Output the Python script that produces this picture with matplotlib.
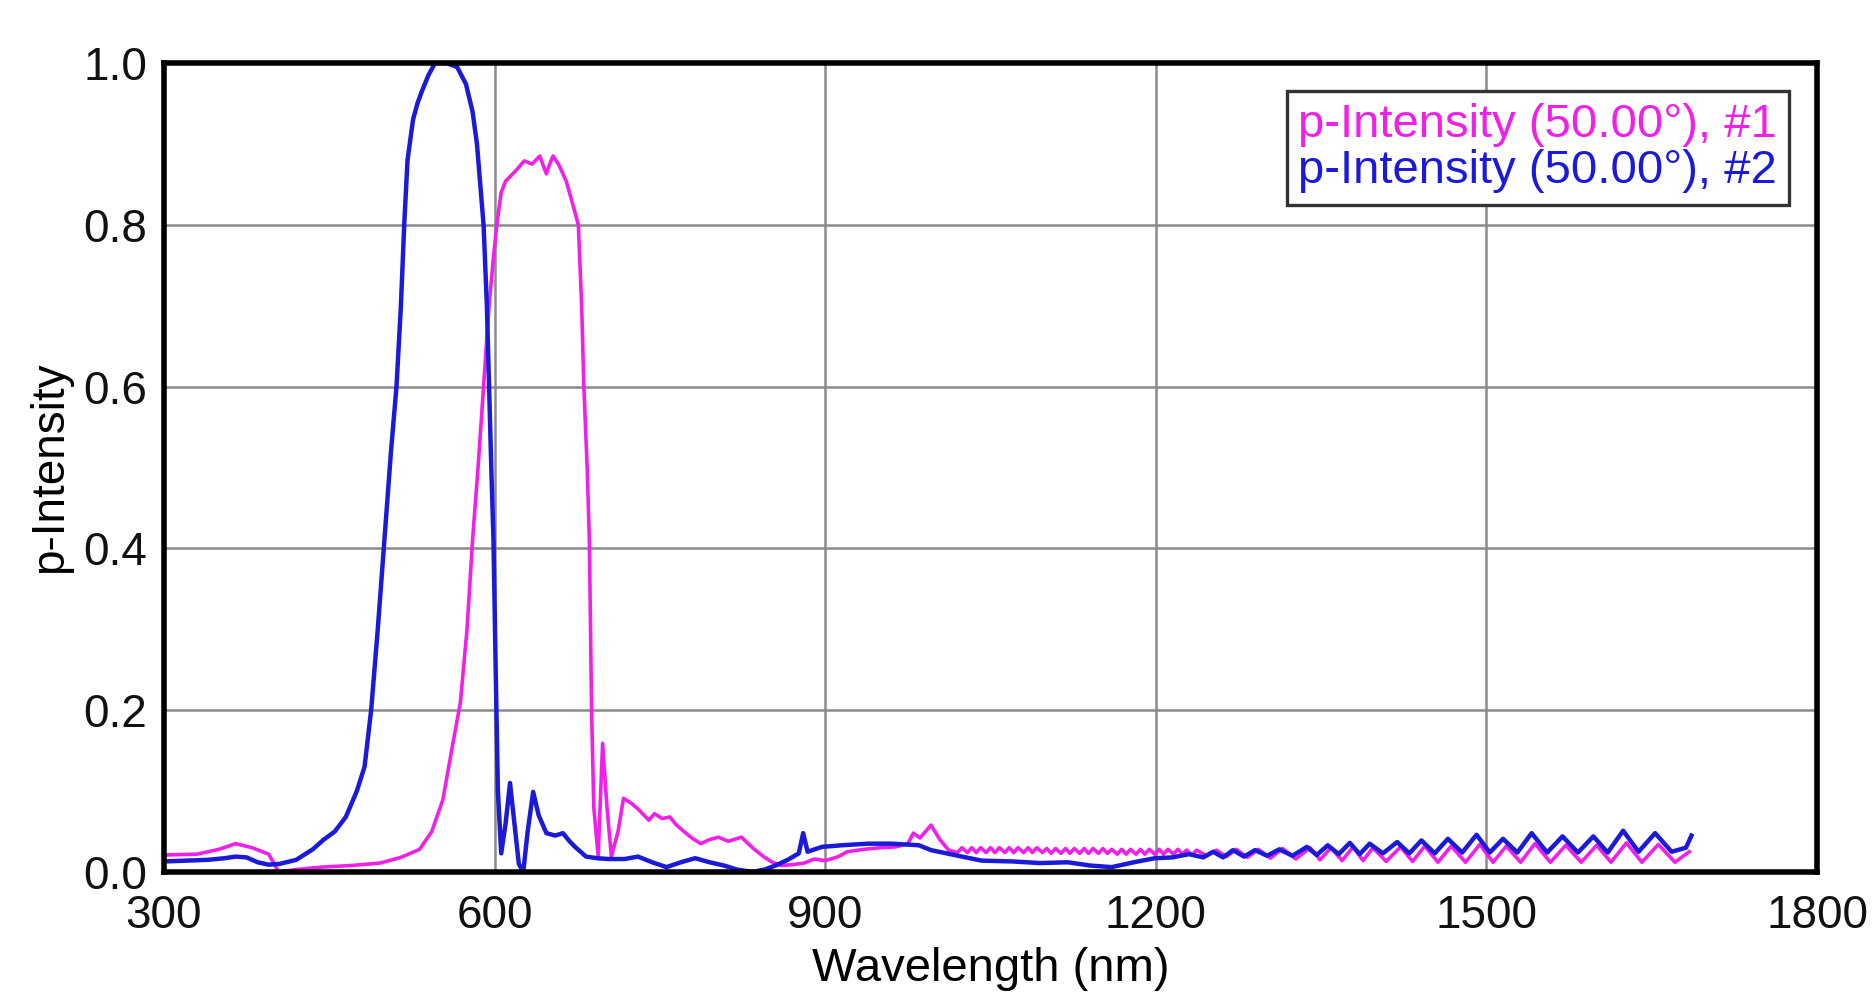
"""Two p-Intensity spectra (50.00 deg) vs wavelength."""

import matplotlib
matplotlib.use("Agg")
import matplotlib.pyplot as plt  # noqa: E402

# --- data (wavelength nm, p-intensity) ---
blue_x = [300, 320, 340, 355, 365, 375, 385, 395, 405, 420, 435, 445, 455, 465,
          475, 482, 488, 494, 500, 506, 511, 515, 518, 521, 526, 530, 534, 540,
          546, 556, 566, 574, 580, 584, 587, 590, 593, 595, 597, 599, 601, 603,
          606, 610, 614, 618, 622, 626, 630, 635, 640, 647, 655, 662, 668, 673,
          683, 693, 704, 718, 730, 743, 756, 769, 782, 795, 808, 820, 834, 845,
          855, 866, 876, 880, 884, 897, 915, 939, 960, 985, 996, 1017, 1042,
          1070, 1095, 1120, 1140, 1160, 1180, 1199, 1215, 1230,
          1243, 1252, 1261, 1270, 1280, 1290, 1301, 1312, 1324, 1337, 1346,
          1356, 1366, 1376, 1385, 1394, 1406, 1419, 1430, 1441, 1453, 1465,
          1478, 1491, 1503, 1515, 1528, 1541, 1555, 1569, 1583, 1597, 1610,
          1624, 1638, 1653, 1668, 1681, 1686]
blue_y = [0.013, 0.014, 0.015, 0.017, 0.019, 0.018, 0.012, 0.009, 0.010, 0.015,
          0.028, 0.040, 0.050, 0.068, 0.100, 0.130, 0.200, 0.300, 0.410, 0.520,
          0.600, 0.700, 0.800, 0.880, 0.930, 0.950, 0.965, 0.985, 1.000, 1.000,
          0.995, 0.974, 0.940, 0.900, 0.850, 0.800, 0.700, 0.600, 0.500, 0.410,
          0.250, 0.100, 0.023, 0.060, 0.110, 0.060, 0.010, 0.000, 0.050, 0.099,
          0.070, 0.048, 0.045, 0.048, 0.038, 0.031, 0.019, 0.017, 0.016, 0.016,
          0.019, 0.012, 0.006, 0.012, 0.017, 0.012, 0.008, 0.003, 0.000, 0.003,
          0.008, 0.015, 0.023, 0.048, 0.025, 0.031, 0.033, 0.035, 0.035, 0.033,
          0.027, 0.021, 0.014, 0.013, 0.011, 0.012, 0.008, 0.006, 0.012, 0.017,
          0.018, 0.022,
          0.018, 0.025, 0.018, 0.027, 0.019, 0.027, 0.020, 0.028, 0.020, 0.031,
          0.021, 0.033, 0.022, 0.036, 0.022, 0.035, 0.023, 0.037, 0.023, 0.039,
          0.023, 0.041, 0.024, 0.046, 0.024, 0.041, 0.024, 0.048, 0.024, 0.044,
          0.024, 0.044, 0.024, 0.051, 0.025, 0.048, 0.025, 0.030, 0.045]

mag_x = [300, 330, 350, 365, 380, 395, 400, 404, 420, 443, 470, 496, 515, 532,
         543, 553, 561, 569, 575, 580, 585, 590, 595, 599, 602, 606, 610, 618,
         627, 634, 641, 645, 647, 650, 653, 658, 665, 670, 676, 679, 681, 684,
         686, 688, 690, 694, 698, 702, 706, 712, 717, 724, 730, 740, 745, 752,
         759, 765, 771, 779, 787, 795, 803, 812, 824, 834, 844, 852, 860, 870,
         881, 890, 900, 912, 920, 935, 950, 964, 975, 980, 986, 996, 1004,
         1012, 1020,
         1024, 1029, 1033, 1037, 1041, 1046, 1050, 1054, 1058, 1063, 1067,
         1071, 1075, 1080, 1084, 1088, 1092, 1097, 1101, 1105, 1109, 1114,
         1118, 1122, 1126, 1131, 1135, 1139, 1143, 1148, 1152, 1156, 1160,
         1165, 1169, 1173, 1177, 1182, 1186, 1190, 1194, 1199, 1203, 1207,
         1211, 1216, 1220, 1224, 1228, 1233, 1237,
         1246, 1255, 1264, 1273, 1283, 1293, 1304, 1315, 1327, 1340, 1349,
         1359, 1369, 1379, 1388, 1397, 1409, 1422, 1433, 1444, 1456, 1468,
         1481, 1494, 1506, 1518, 1531, 1544, 1558, 1572, 1586, 1600, 1613,
         1627, 1641, 1656, 1671, 1684]
mag_y = [0.021, 0.022, 0.028, 0.035, 0.030, 0.022, 0.010, 0.000, 0.003, 0.006,
         0.008, 0.011, 0.018, 0.028, 0.050, 0.089, 0.150, 0.210, 0.300, 0.410,
         0.500, 0.600, 0.700, 0.760, 0.800, 0.840, 0.854, 0.865, 0.879, 0.875,
         0.885, 0.870, 0.863, 0.875, 0.885, 0.875, 0.854, 0.830, 0.800, 0.700,
         0.600, 0.500, 0.410, 0.200, 0.080, 0.019, 0.159, 0.080, 0.019, 0.050,
         0.091, 0.085, 0.078, 0.064, 0.072, 0.066, 0.068, 0.058, 0.051, 0.042,
         0.035, 0.040, 0.043, 0.038, 0.043, 0.030, 0.019, 0.012, 0.008, 0.009,
         0.011, 0.016, 0.014, 0.019, 0.025, 0.028, 0.030, 0.031, 0.035, 0.048,
         0.042, 0.058, 0.040, 0.027, 0.024,
         0.030, 0.024, 0.030, 0.024, 0.030, 0.024, 0.030, 0.024, 0.030, 0.024,
         0.030, 0.024, 0.030, 0.024, 0.030, 0.024, 0.030, 0.024, 0.029, 0.023,
         0.029, 0.023, 0.029, 0.023, 0.029, 0.023, 0.029, 0.023, 0.029, 0.023,
         0.029, 0.023, 0.028, 0.022, 0.028, 0.022, 0.028, 0.022, 0.028, 0.022,
         0.028, 0.022, 0.028, 0.022, 0.028, 0.022, 0.028, 0.022, 0.027, 0.021,
         0.027,
         0.020, 0.027, 0.019, 0.028, 0.018, 0.028, 0.017, 0.029, 0.016, 0.030,
         0.015, 0.030, 0.014, 0.031, 0.014, 0.030, 0.013, 0.031, 0.013, 0.032,
         0.012, 0.032, 0.012, 0.034, 0.012, 0.032, 0.012, 0.035, 0.012, 0.033,
         0.012, 0.033, 0.012, 0.036, 0.012, 0.034, 0.012, 0.025]

labels = ["p-Intensity (50.00°), #1", "p-Intensity (50.00°), #2"]
x_ticks = [300, 600, 900, 1200, 1500, 1800]
y_ticks = [0.0, 0.2, 0.4, 0.6, 0.8, 1.0]

MAGENTA = "#f020e8"
BLUE = "#1a1ad8"

plt.rcParams["font.family"] = ["Liberation Sans", "DejaVu Sans"]

fig = plt.figure(figsize=(18.76, 9.92), dpi=100)
ax = fig.add_axes([0.0874, 0.121, 0.8812, 0.8155])

ax.plot(mag_x, mag_y, color=MAGENTA, lw=2.6, label=labels[0])
ax.plot(blue_x, blue_y, color=BLUE, lw=3.2, label=labels[1])

ax.set_xlim(300, 1800)
ax.set_ylim(0, 1.0)
ax.set_xticks(x_ticks)
ax.set_yticks(y_ticks)
ax.set_xticklabels([str(t) for t in x_ticks])
ax.set_yticklabels([f"{t:.1f}" for t in y_ticks])
ax.tick_params(axis="both", length=0, labelsize=33, colors="#111111")
ax.tick_params(axis="x", pad=16)
ax.tick_params(axis="y", pad=12)
ax.grid(True, color="#8a8a8a", lw=1.8)
ax.set_axisbelow(True)
for sp in ax.spines.values():
    sp.set_linewidth(4.0)
    sp.set_color("black")

ax.set_xlabel("Wavelength (nm)", fontsize=34, labelpad=6)
ax.set_ylabel("p-Intensity", fontsize=33, labelpad=8)

leg = ax.legend(loc="upper right", bbox_to_anchor=(0.983, 0.965),
                borderaxespad=0, fancybox=False, handlelength=0,
                handletextpad=0, fontsize=34, labelspacing=0.05,
                borderpad=0.25, framealpha=1)
leg.get_frame().set_edgecolor("#333333")
leg.get_frame().set_linewidth(2.4)
for txt, c in zip(leg.get_texts(), [MAGENTA, BLUE]):
    txt.set_color(c)
for h in leg.legend_handles:
    h.set_visible(False)

fig.savefig("out.png", dpi=100)
